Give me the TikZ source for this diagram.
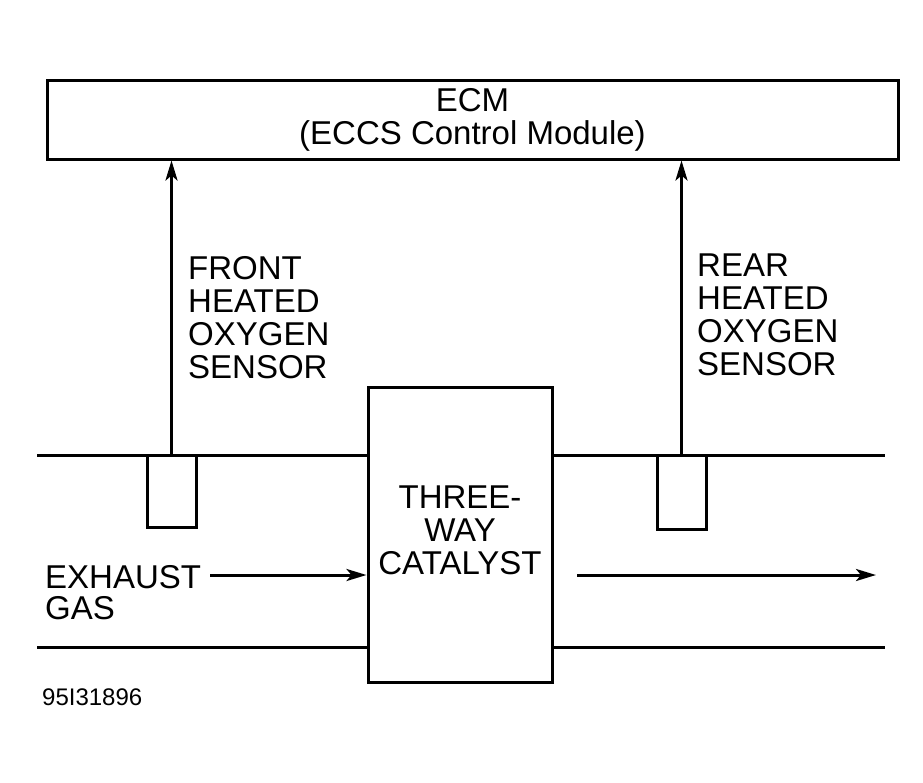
\documentclass[tikz,border=0pt]{standalone}
\usepackage{fontspec}
\setmainfont{Liberation Sans}
\usetikzlibrary{arrows.meta}

\begin{document}
\begin{tikzpicture}[x=1pt,y=-1pt]
\tikzset{
  boxnode/.style={draw,line width=3pt,inner sep=0pt},
  lbltext/.style={inner sep=0pt,align=left,font=\fontsize{33}{33}\selectfont},
  flowarrow/.style={-{Stealth[length=20pt,width=12pt,inset=5pt]},line width=3pt},
  pipe/.style={line width=3pt}
}
\useasboundingbox (0,0) rectangle (923,782);
\node[boxnode,minimum width=851pt,minimum height=79pt,align=center,font=\fontsize{33}{33}\selectfont] (n_ecm) at (472.5,119.5) {ECM\\(ECCS Control Module)};
\node[boxnode,minimum width=184pt,minimum height=295pt] (n_cat) at (460,534.5) {};
\node[boxnode,minimum width=49pt,minimum height=72pt] (n_fs) at (171.5,491) {};
\node[boxnode,minimum width=49pt,minimum height=74pt] (n_rs) at (681.5,492) {};
\node[lbltext,anchor=north west] (n_fl) at (188,256) {FRONT\\HEATED\\OXYGEN\\SENSOR};
\node[lbltext,anchor=north west] (n_rl) at (697,254) {REAR\\HEATED\\OXYGEN\\SENSOR};
\node[lbltext,anchor=north west,font=\fontsize{33}{31}\selectfont] (n_ex) at (45,565) {EXHAUST\\GAS};
\node[lbltext,anchor=north,align=center] (n_catlbl) at (460,486) {THREE-\\WAY\\CATALYST};
\node[inner sep=0pt,anchor=north west,font=\fontsize{24}{24}\selectfont] (n_id) at (42,689) {95I31896};
\coordinate (p_tl) at (37,455);
\coordinate (p_bl) at (37,647);
\coordinate (p_tr) at (885,455);
\coordinate (p_br) at (885,647);
\coordinate (c_in) at (210,575);
\coordinate (c_out0) at (577,575);
\coordinate (c_out1) at (876,575);
\draw[pipe] (p_tl) -- (p_tl -| n_cat.west);
\draw[pipe] (p_bl) -- (p_bl -| n_cat.west);
\draw[pipe] (p_tr -| n_cat.east) -- (p_tr);
\draw[pipe] (p_br -| n_cat.east) -- (p_br);
\draw[flowarrow] (n_fs.north) -- (n_fs.north |- n_ecm.south);
\draw[flowarrow] (n_rs.north) -- (n_rs.north |- n_ecm.south);
\draw[flowarrow] (c_in) -- (c_in -| n_cat.west);
\draw[flowarrow] (c_out0) -- (c_out1);
\end{tikzpicture}
\end{document}
